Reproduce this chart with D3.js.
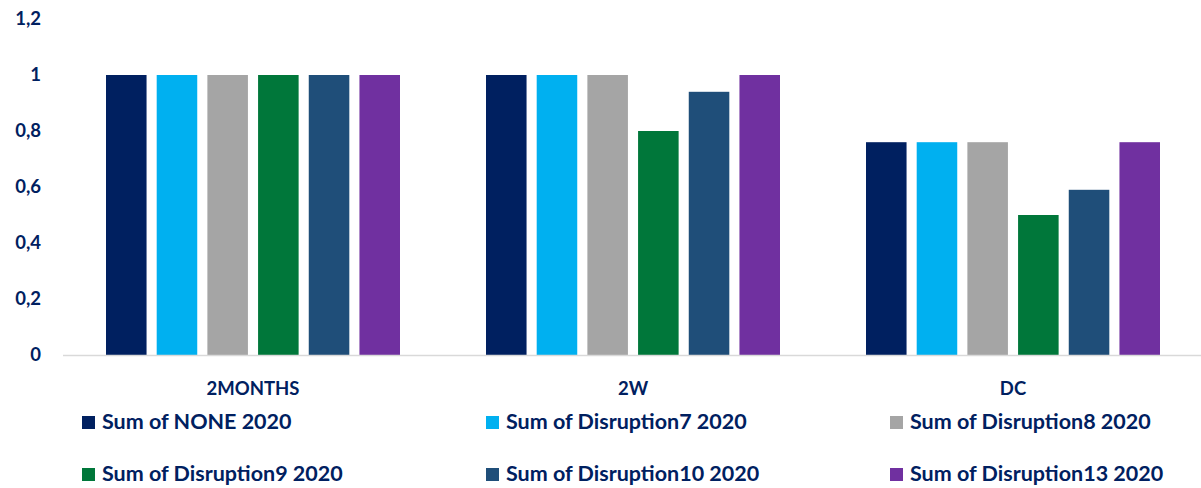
<!DOCTYPE html>
<html>
<head>
<meta charset="utf-8">
<script src="https://cdn.jsdelivr.net/npm/d3@7"></script>
<style>
  body { margin: 0; background: #fff; }
  text { font-family: Lato, "Open Sans", sans-serif; font-weight: bold; fill: #002060; }
</style>
</head>
<body>
<div class="chart"></div>
<script>
var w = 1201;
var h = 488;
var paddingLeft = 63;
var paddingRight = -2;
var paddingTop = 19;
var axisY = 355;

var categories = ["2MONTHS", "2W", "DC"];
var seriesNames = ["Sum of NONE 2020", "Sum of Disruption7 2020", "Sum of Disruption8 2020",
                   "Sum of Disruption9 2020", "Sum of Disruption10 2020", "Sum of Disruption13 2020"];
var seriesColors = ["#002060", "#00B0F0", "#A5A5A5", "#00773A", "#1F4E79", "#7030A0"];
var none2020   = [1, 1, 0.76];
var disr7      = [1, 1, 0.76];
var disr8      = [1, 1, 0.76];
var disr9      = [1, 0.8, 0.5];
var disr10     = [1, 0.94, 0.59];
var disr13     = [1, 1, 0.76];
var yTicks = [0, 0.2, 0.4, 0.6, 0.8, 1, 1.2];

var allSeries = [none2020, disr7, disr8, disr9, disr10, disr13];
var legendCols = [82, 486, 890];

var svg = d3.select(".chart").append("svg")
            .attr("width", w)
            .attr("height", h);

var x0 = d3.scaleBand()
           .domain(categories)
           .range([paddingLeft, w - paddingRight])
           .padding(0);

var x1 = d3.scaleBand()
           .domain(d3.range(seriesNames.length))
           .range([43, x0.bandwidth() - 43])
           .paddingInner(0.2)
           .paddingOuter(0);

var yScale = d3.scaleLinear()
               .domain([0, 1.2])
               .range([axisY, paddingTop]);

// y tick labels
var yAxis = d3.axisLeft(yScale)
              .tickValues(yTicks)
              .tickSize(0)
              .tickPadding(0)
              .tickFormat(function(d) { return String(d).replace(".", ","); });

svg.append("g")
   .attr("class", "yAxis")
   .attr("transform", "translate(41,0)")
   .call(yAxis)
   .call(function(g) { g.select(".domain").remove(); })
   .selectAll("text")
   .style("font-size", "18.5px")
   .style("font-family", "Lato, sans-serif")
   .attr("fill", "#002060");

// bars
categories.forEach(function(cat, ci) {
  var g = svg.append("g")
             .attr("transform", "translate(" + x0(cat) + ",0)");
  g.selectAll("rect")
   .data(allSeries.map(function(s, si) { return {s: si, v: s[ci]}; }))
   .enter()
   .append("rect")
   .attr("x", function(d) { return x1(d.s); })
   .attr("width", x1.bandwidth())
   .attr("y", function(d) { return yScale(d.v); })
   .attr("height", function(d) { return axisY - yScale(d.v); })
   .attr("fill", function(d) { return seriesColors[d.s]; });
});

// x axis line
svg.append("line")
   .attr("x1", paddingLeft)
   .attr("x2", w)
   .attr("y1", axisY + 0.5)
   .attr("y2", axisY + 0.5)
   .style("stroke", "#d9d9d9")
   .style("stroke-width", 1.5);

// category labels
svg.selectAll(".catLabel")
   .data(categories)
   .enter()
   .append("text")
   .attr("class", "catLabel")
   .attr("x", function(d) { return x0(d) + x0.bandwidth() / 2; })
   .attr("y", 390)
   .attr("text-anchor", "middle")
   .attr("dominant-baseline", "middle")
   .style("font-size", "18.5px")
   .text(function(d) { return d; });

// legend
var legend = svg.selectAll(".legendItem")
   .data(seriesNames)
   .enter()
   .append("g")
   .attr("class", "legendItem")
   .attr("transform", function(d, i) {
     return "translate(" + legendCols[i % 3] + "," + (416 + Math.floor(i / 3) * 52) + ")";
   });

legend.append("rect")
      .attr("width", 13)
      .attr("height", 13)
      .attr("fill", function(d, i) { return seriesColors[i]; });

legend.append("text")
      .attr("x", 20)
      .attr("y", 7)
      .attr("dominant-baseline", "middle")
      .style("font-size", "21.5px")
      .text(function(d) { return d; });
</script>
</body>
</html>
